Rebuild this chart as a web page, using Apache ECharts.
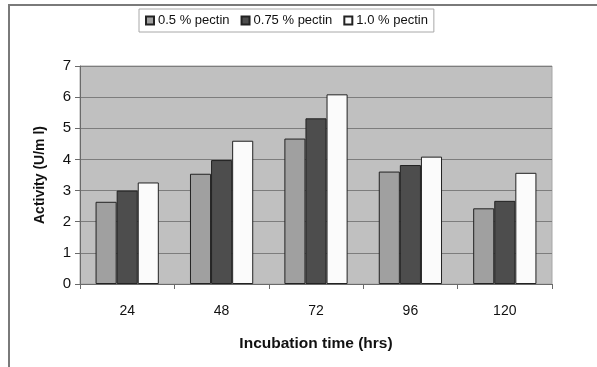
<!DOCTYPE html>
<html>
<head>
<meta charset="utf-8">
<script src="https://cdn.jsdelivr.net/npm/echarts@6/dist/echarts.min.js"></script>
<style>
html,body{margin:0;padding:0;background:#fff;}
#frame{position:absolute;left:8px;top:4px;width:589px;height:363px;border-left:2px solid #7a7a7a;border-top:2px solid #7a7a7a;box-sizing:border-box;}
#chart{position:absolute;left:0;top:0;width:597px;height:367px;}
</style>
</head>
<body>
<div id="frame"></div>
<div id="chart"></div>
<script>
const categories = ['24', '48', '72', '96', '120'];
const seriesNames = ['0.5 % pectin', '0.75 % pectin', '1.0 % pectin'];
const pectin05 = [2.64, 3.54, 4.67, 3.61, 2.43];
const pectin075 = [3.0, 3.98, 5.32, 3.82, 2.67];
const pectin10 = [3.26, 4.6, 6.09, 4.09, 3.57];
const yTicks = [0, 1, 2, 3, 4, 5, 6, 7];
const xTitle = 'Incubation time (hrs)';
const yTitle = 'Activity (U/m l)';

const FONT = '"Liberation Sans", Arial, sans-serif';
const colors = ['#a0a0a0', '#4d4d4d', '#fbfbfb'];
const values = [pectin05, pectin075, pectin10];

const chart = echarts.init(document.getElementById('chart'), null, {renderer: 'canvas'});
chart.setOption({
  animation: false,
  backgroundColor: 'transparent',
  textStyle: {fontFamily: FONT},
  legend: {
    data: seriesNames,
    left: 139,
    top: 9,
    icon: 'rect',
    itemWidth: 8,
    itemHeight: 8,
    itemGap: 11,
    padding: [5, 6, 5, 6],
    borderColor: '#a8a8a8',
    borderWidth: 1,
    backgroundColor: '#fff',
    textStyle: {fontFamily: FONT, fontSize: 13, color: '#111', padding: [0, 0, 0, -1]}
  },
  grid: {
    left: 80, right: 45, top: 66, bottom: 83,
    show: true,
    backgroundColor: '#c0c0c0',
    borderColor: '#a6a6a6',
    borderWidth: 1
  },
  xAxis: {
    type: 'category',
    data: categories,
    name: xTitle,
    nameLocation: 'middle',
    nameGap: 52,
    nameTextStyle: {fontFamily: FONT, fontSize: 15.5, fontWeight: 'bold', color: '#111'},
    axisLine: {lineStyle: {color: '#6a6a6a', width: 1}},
    axisTick: {show: true, length: 5, lineStyle: {color: '#6a6a6a'}},
    axisLabel: {fontFamily: FONT, fontSize: 14, color: '#111', margin: 20},
    splitLine: {show: false}
  },
  yAxis: {
    type: 'value',
    min: yTicks[0],
    max: yTicks[yTicks.length - 1],
    interval: 1,
    name: yTitle,
    nameLocation: 'middle',
    nameGap: 33,
    nameRotate: 90,
    nameTextStyle: {fontFamily: FONT, fontSize: 14, fontWeight: 'bold', color: '#111'},
    axisLine: {show: true, lineStyle: {color: '#6a6a6a', width: 1}},
    axisTick: {show: true, length: 5, lineStyle: {color: '#6a6a6a'}},
    axisLabel: {fontFamily: FONT, fontSize: 15, color: '#111', margin: 9},
    splitLine: {show: true, lineStyle: {color: '#7d7d7d', width: 1}}
  },
  series: seriesNames.map((name, i) => ({
    name: name,
    type: 'bar',
    data: values[i],
    barGap: '0%',
    barCategoryGap: '33%',
    itemStyle: {color: colors[i], borderColor: '#222', borderWidth: 1}
  }))
});
</script>
</body>
</html>
